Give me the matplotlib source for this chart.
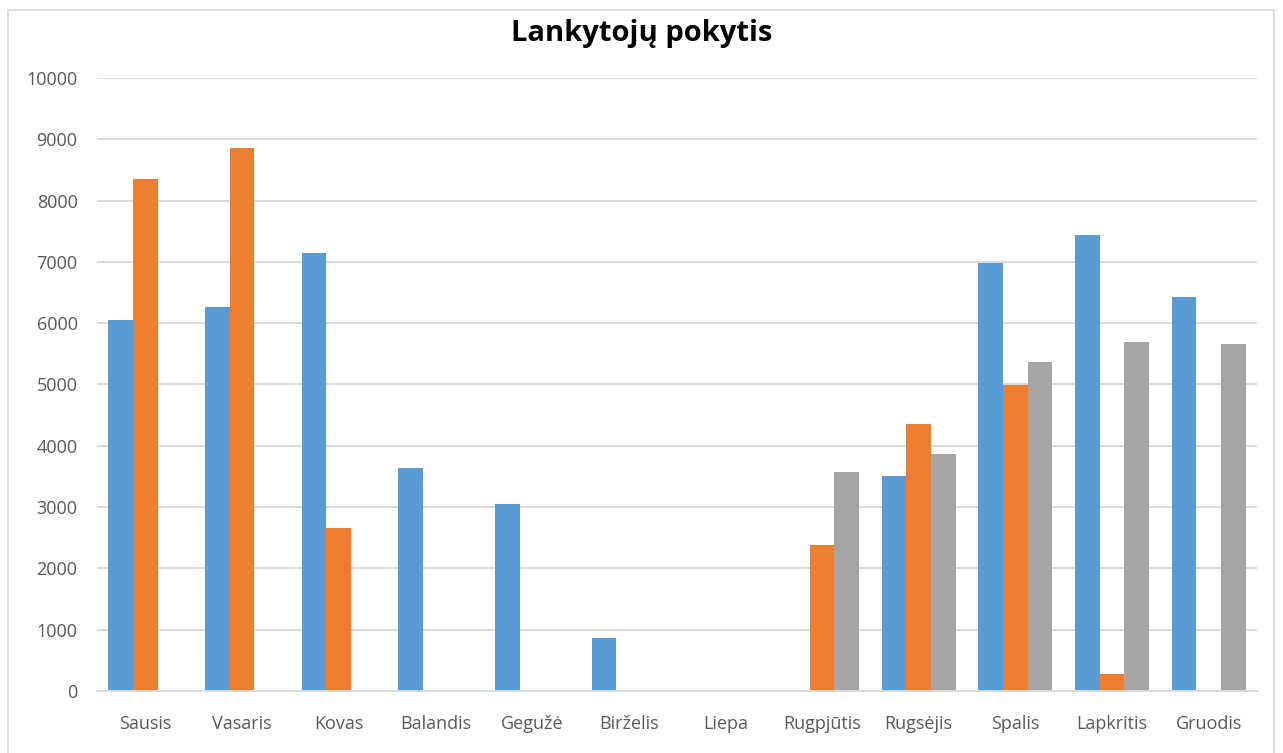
import numpy as np
import matplotlib
matplotlib.use("Agg")
from matplotlib import pyplot as plt
from matplotlib.patches import Rectangle


# ---------------------- data ----------------------
months = ["Sausis", "Vasaris", "Kovas", "Balandis", "Gegužė", "Birželis",
          "Liepa", "Rugpjūtis", "Rugsėjis", "Spalis", "Lapkritis", "Gruodis"]

# three series, no legend on the original chart
series_1 = [6060, 6260, 7140, 3640, 3050, 860, 0, 0, 3500, 6990, 7440, 6420]
series_2 = [8350, 8850, 2660, 0, 0, 0, 0, 2380, 4350, 4990, 280, 0]
series_3 = [0, 0, 0, 0, 0, 0, 0, 3570, 3860, 5370, 5700, 5660]

title = "Lankytojų pokytis"
y_ticks = [0, 1000, 2000, 3000, 4000, 5000, 6000, 7000, 8000, 9000, 10000]

# ---------------------- style ---------------------
plt.rcParams["font.family"] = ["Open Sans", "DejaVu Sans"]
colors = ["#5B9BD5", "#ED7D31", "#A5A5A5"]
grid_color = "#D9D9D9"
text_color = "#595959"

W, H = 1283, 753
fig = plt.figure(figsize=(W / 100, H / 100), dpi=100)
fig.patch.set_facecolor("white")

# chart area border
fig.patches.append(Rectangle((8 / W, -0.05), (1274 - 8) / W, 1.05 - 10 / H,
                             transform=fig.transFigure, fill=False,
                             edgecolor=grid_color, linewidth=1.2))

ax = fig.add_axes([97 / W, 1 - 691 / H, (1257 - 97) / W, (691 - 78) / H])

x = np.arange(len(months))
width = 0.255
for i, (vals, c) in enumerate(zip([series_1, series_2, series_3], colors)):
    ax.bar(x + (i - 1) * width, vals, width=width, color=c, zorder=3)

ax.set_xlim(-0.5, len(months) - 0.5)
ax.set_ylim(0, 10000)
ax.set_yticks(y_ticks)
ax.set_yticklabels([str(v) for v in y_ticks])
ax.set_xticks(x)
ax.set_xticklabels(months)

ax.grid(axis="y", color=grid_color, linewidth=1.4, zorder=0)
for s in ["top", "right", "left"]:
    ax.spines[s].set_visible(False)
ax.spines["bottom"].set_color(grid_color)
ax.spines["bottom"].set_linewidth(1.4)
ax.spines["bottom"].set_zorder(4)

ax.tick_params(axis="both", length=0, labelsize=13, colors=text_color)
ax.tick_params(axis="x", pad=17)
ax.tick_params(axis="y", pad=14)

fig.text(0.5, 1 - 33 / H, title, ha="center", va="center",
         fontsize=21, fontweight="bold", color="black")

fig.savefig("out.png", dpi=100)
